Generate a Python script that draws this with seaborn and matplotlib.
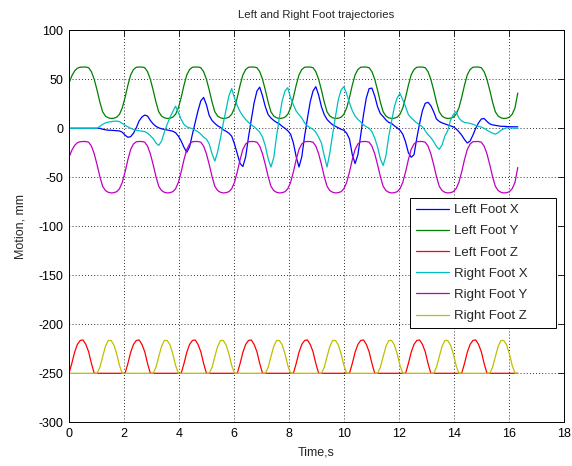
import numpy as np
import pandas as pd
import matplotlib
matplotlib.use("Agg")
import matplotlib.pyplot as plt
import seaborn as sns

# Logged foot positions, sampled every 0.102 s (20 samples per 2.04 s gait cycle)
SAMPLE_DT = 0.102
time_s = np.round(np.arange(161) * SAMPLE_DT, 3)

left_x = [
    0, 0, 0, 0, 0, 0, 0, 0, 0, 0, 0, 0, -1, -1.5, -2, -2, -2.3, -2.5, -2.7, -4,
    -7, -9.2, -8.5, -5, 0.5, 7.5, 11.5, 13.5, 12.5, 8, 4.5, 2, 0.5, -0.5, -1.2, -1.7, -2.3, -3, -4.5, -8,
    -13, -19.5, -24.5, -19, -6, 6, 18, 28, 31.5, 24, 13, 8, 5, 2.5, 1, -1.5, -3, -5, -8, -16,
    -26, -36, -39, -29, -9, 9, 26, 38, 42, 33, 22, 14, 10.5, 8, 6, 4.5, 2, 0, -2.5, -6,
    -15, -29, -39.5, -29, -8, 10, 27, 38, 42.5, 34, 22, 14, 9, 6, 3.5, 2, 0.5, -1, -2, -5,
    -11, -27, -36, -27, -7, 14, 31, 40.5, 41, 33, 22, 15, 12, 8.5, 6, 5, 2.5, 0.5, -2, -6,
    -14, -25, -29.5, -27, -10, 5, 18, 25.5, 26.5, 23, 17, 9.5, 7, 5.5, 4.5, 3.5, 2.5, 1.5, -0.5, -3.5,
    -7, -11.5, -15, -13, -7, 0, 5.5, 9.5, 10, 7, 4.5, 3.5, 3, 2.5, 2, 2, 1.8, 1.6, 1.6, 1.5,
    1.5,
]

left_y = [
    46, 53.5, 58.5, 61.3, 62.3, 62.5, 62.5, 61.8, 57.8, 50, 39, 26.8, 16.8, 12.5, 10.7, 10, 10.3, 11.3, 14.3, 20.8,
    31.5, 44, 54.5, 60, 62.3, 62.5, 62.5, 61.8, 57.8, 50, 39, 26.8, 16.8, 12.5, 10.7, 10, 10.3, 11.3, 14.3, 20.8,
    31.5, 44, 54.5, 60, 62.3, 62.5, 62.5, 61.8, 57.8, 50, 39, 26.8, 16.8, 12.5, 10.7, 10, 10.3, 11.3, 14.3, 20.8,
    31.5, 44, 54.5, 60, 62.3, 62.5, 62.5, 61.8, 57.8, 50, 39, 26.8, 16.8, 12.5, 10.7, 10, 10.3, 11.3, 14.3, 20.8,
    31.5, 44, 54.5, 60, 62.3, 62.5, 62.5, 61.8, 57.8, 50, 39, 26.8, 16.8, 12.5, 10.7, 10, 10.3, 11.3, 14.3, 20.8,
    31.5, 44, 54.5, 60, 62.3, 62.5, 62.5, 61.8, 57.8, 50, 39, 26.8, 16.8, 12.5, 10.7, 10, 10.3, 11.3, 14.3, 20.8,
    31.5, 44, 54.5, 60, 62.3, 62.5, 62.5, 61.8, 57.8, 50, 39, 26.8, 16.8, 12.5, 10.7, 10, 10.3, 11.3, 14.3, 20.8,
    31.5, 44, 54.5, 60, 62.3, 62.5, 62.5, 61.8, 57.8, 50, 39, 26.8, 16.8, 12.5, 10.7, 10, 10.3, 11.3, 14.3, 20.8,
    36,
]

left_z = [
    -250, -240, -228.5, -220.5, -216.5, -216, -220.5, -228, -240, -250, -250, -250, -250, -250, -250, -250, -250, -250, -250, -250,
    -250, -240, -228.5, -220.5, -216.5, -216, -220.5, -228, -240, -250, -250, -250, -250, -250, -250, -250, -250, -250, -250, -250,
    -250, -240, -228.5, -220.5, -216.5, -216, -220.5, -228, -240, -250, -250, -250, -250, -250, -250, -250, -250, -250, -250, -250,
    -250, -240, -228.5, -220.5, -216.5, -216, -220.5, -228, -240, -250, -250, -250, -250, -250, -250, -250, -250, -250, -250, -250,
    -250, -240, -228.5, -220.5, -216.5, -216, -220.5, -228, -240, -250, -250, -250, -250, -250, -250, -250, -250, -250, -250, -250,
    -250, -240, -228.5, -220.5, -216.5, -216, -220.5, -228, -240, -250, -250, -250, -250, -250, -250, -250, -250, -250, -250, -250,
    -250, -240, -228.5, -220.5, -216.5, -216, -220.5, -228, -240, -250, -250, -250, -250, -250, -250, -250, -250, -250, -250, -250,
    -250, -240, -228.5, -220.5, -216.5, -216, -220.5, -228, -240, -250, -250, -250, -250, -250, -250, -250, -250, -250, -250, -250,
    -250,
]

right_x = [
    0, 0, 0, 0, 0, 0, 0, 0, 0, 0, 0, 2, 4, 5.5, 6.3, 6.8, 7.2, 7.4, 6.8, 5,
    3, 1.5, 0, -1.3, -2, -2.5, -3, -3.4, -5, -7.5, -10.5, -15, -17.5, -13, -4, 4, 11, 17, 22.5, 16,
    9, 4, 1.5, 0.5, -0.5, -2, -3.5, -6, -9, -11, -16, -26, -33.5, -24, -10, 5, 19, 33, 40.5, 31,
    23, 17, 12.5, 9, 6, 3.5, 1.5, -1, -4, -9, -18, -31, -39.5, -30, -8, 11, 28, 38, 41.5, 31,
    24, 17.5, 14, 10.5, 5.5, 2.5, 0.5, -1, -4, -9, -15, -28, -39.5, -25, -6, 12, 29, 39, 42.5, 35,
    26, 18, 12.5, 9, 6.5, 3.5, 1.5, 0, -3.5, -10, -19, -31, -38, -28, -8, 7, 22, 31, 35.5, 29,
    22, 14, 10.5, 8, 5.5, 3.5, 1.5, -2.5, -6.5, -9.5, -13.5, -18.5, -21.5, -17, -8, -2.5, 8, 14, 17, 10.5,
    7.5, 6, 5.5, 5, 4, 3, 2, 1.2, 0, -2, -3.5, -5, -6, -4.5, -2, -0.5, 0.5, 0.4, 0.2, 0.1,
    0,
]

right_y = [
    -29.5, -22.5, -17.5, -14.7, -13.7, -13.5, -13.5, -14.2, -18.2, -26, -37, -49.2, -59.2, -63.5, -65.3, -66, -65.7, -64.7, -61.7, -55.2,
    -44.5, -32, -21.5, -16, -13.7, -13.5, -13.5, -14.2, -18.2, -26, -37, -49.2, -59.2, -63.5, -65.3, -66, -65.7, -64.7, -61.7, -55.2,
    -44.5, -32, -21.5, -16, -13.7, -13.5, -13.5, -14.2, -18.2, -26, -37, -49.2, -59.2, -63.5, -65.3, -66, -65.7, -64.7, -61.7, -55.2,
    -44.5, -32, -21.5, -16, -13.7, -13.5, -13.5, -14.2, -18.2, -26, -37, -49.2, -59.2, -63.5, -65.3, -66, -65.7, -64.7, -61.7, -55.2,
    -44.5, -32, -21.5, -16, -13.7, -13.5, -13.5, -14.2, -18.2, -26, -37, -49.2, -59.2, -63.5, -65.3, -66, -65.7, -64.7, -61.7, -55.2,
    -44.5, -32, -21.5, -16, -13.7, -13.5, -13.5, -14.2, -18.2, -26, -37, -49.2, -59.2, -63.5, -65.3, -66, -65.7, -64.7, -61.7, -55.2,
    -44.5, -32, -21.5, -16, -13.7, -13.5, -13.5, -14.2, -18.2, -26, -37, -49.2, -59.2, -63.5, -65.3, -66, -65.7, -64.7, -61.7, -55.2,
    -44.5, -32, -21.5, -16, -13.7, -13.5, -13.5, -14.2, -18.2, -26, -37, -49.2, -59.2, -63.5, -65.3, -66, -65.7, -64.7, -61.7, -55.2,
    -40,
]

right_z = [
    -250, -250, -250, -250, -250, -250, -250, -250, -250, -250, -250, -244, -233, -222.5, -216.5, -216.5, -221, -230, -242, -250,
    -250, -250, -250, -250, -250, -250, -250, -250, -250, -250, -250, -244, -233, -222.5, -216.5, -216.5, -221, -230, -242, -250,
    -250, -250, -250, -250, -250, -250, -250, -250, -250, -250, -250, -244, -233, -222.5, -216.5, -216.5, -221, -230, -242, -250,
    -250, -250, -250, -250, -250, -250, -250, -250, -250, -250, -250, -244, -233, -222.5, -216.5, -216.5, -221, -230, -242, -250,
    -250, -250, -250, -250, -250, -250, -250, -250, -250, -250, -250, -244, -233, -222.5, -216.5, -216.5, -221, -230, -242, -250,
    -250, -250, -250, -250, -250, -250, -250, -250, -250, -250, -250, -244, -233, -222.5, -216.5, -216.5, -221, -230, -242, -250,
    -250, -250, -250, -250, -250, -250, -250, -250, -250, -250, -250, -244, -233, -222.5, -216.5, -216.5, -221, -230, -242, -250,
    -250, -250, -250, -250, -250, -250, -250, -250, -250, -250, -250, -244, -233, -222.5, -216.5, -216.5, -221, -230, -242, -250,
    -250,
]

series_names = ["Left Foot X", "Left Foot Y", "Left Foot Z",
                "Right Foot X", "Right Foot Y", "Right Foot Z"]
series_values = [left_x, left_y, left_z, right_x, right_y, right_z]
series_colors = ["#0000ff", "#008000", "#ff0000", "#00bfbf", "#bf00bf", "#bfbf00"]

x_ticks = list(range(0, 19, 2))
y_ticks = list(range(-300, 101, 50))

df = pd.concat(
    [pd.DataFrame({"t": time_s, "v": vals, "series": name})
     for name, vals in zip(series_names, series_values)],
    ignore_index=True,
)

sns.set_style("white")
plt.rcParams["font.family"] = ["Liberation Sans", "DejaVu Sans"]
plt.rcParams["axes.unicode_minus"] = False

fig = plt.figure(figsize=(5.72, 4.66), dpi=100, facecolor="white")
ax = fig.add_axes([0.1206, 0.0938, 0.8654, 0.8412])

sns.lineplot(
    data=df, x="t", y="v", hue="series", hue_order=series_names,
    palette=dict(zip(series_names, series_colors)),
    estimator=None, sort=False, linewidth=0.9, legend=False, ax=ax,
)

ax.set_xlim(0, 18)
ax.set_ylim(-300, 100)
ax.set_xticks(x_ticks)
ax.set_yticks(y_ticks)
ax.grid(True, color="black", linestyle=(0, (0.8, 2.4)), linewidth=0.7)
ax.set_axisbelow(True)

for spine in ax.spines.values():
    spine.set_color("black")
    spine.set_linewidth(0.7)
ax.tick_params(direction="in", top=True, right=True, length=4, width=0.6,
               labelsize=9, colors="black", pad=4)

ax.set_title("Left and Right Foot trajectories", fontsize=8.2, pad=9)
ax.set_xlabel("Time,s", fontsize=9, labelpad=5)
ax.set_ylabel("Motion, mm", fontsize=9, labelpad=8.5)

# legend box stretched to a fixed width, entries left-aligned inside it
leg = ax.legend(
    ax.lines[:6], series_names,
    loc="upper left", bbox_to_anchor=(0.689, 0.30, 0.295, 0.272), mode="expand",
    borderaxespad=0, fancybox=False, edgecolor="black", framealpha=1, fontsize=9.5,
    handlelength=2.5, handletextpad=0.4, labelspacing=0.68, borderpad=0.45,
)
leg.get_frame().set_linewidth(0.7)

fig.savefig("out.png", dpi=100, facecolor="white")
